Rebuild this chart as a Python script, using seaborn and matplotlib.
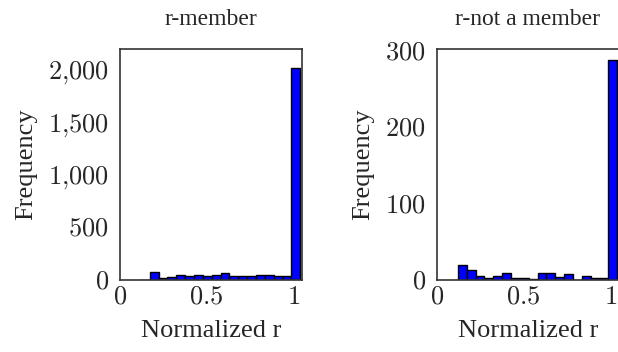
import numpy as np
import pandas as pd
import matplotlib
matplotlib.use("Agg")
import matplotlib.pyplot as plt
import seaborn as sns
from matplotlib.ticker import FuncFormatter

# histogram counts (18 bins each)
bin_edges = np.linspace(0.12, 1.04, 19)
member_counts = [3, 75, 15, 28, 45, 35, 45, 35, 52, 62, 42, 42, 40, 48, 48, 40, 35, 2010]
nonmember_counts = [19, 13, 5, 2, 5, 9, 3, 3, 1, 9, 9, 4, 8, 0, 5, 3, 2, 288]
titles = ["r-member", "r-not a member"]
member_yticks = [0, 500, 1000, 1500, 2000]
nonmember_yticks = [0, 100, 200, 300]
xticks = [0, 0.5, 1]

sns.set_style("white")
plt.rcParams["font.family"] = ["Liberation Serif", "DejaVu Serif"]
plt.rcParams["mathtext.fontset"] = "cm"

centers = (bin_edges[:-1] + bin_edges[1:]) / 2

fig = plt.figure(figsize=(6.18, 3.52), dpi=100)
ax1 = fig.add_axes([0.1942, 0.2045, 0.2945, 0.6563])
ax2 = fig.add_axes([0.7071, 0.2045, 0.2945, 0.6563])


def num_fmt(v, pos):
    if abs(v - round(v)) < 1e-9:
        s = f"{int(round(v)):,}".replace(",", "{,}")
    else:
        s = f"{v:g}"
    return "$" + s + "$"


panels = [
    (ax1, member_counts, titles[0], member_yticks, (0, 2190)),
    (ax2, nonmember_counts, titles[1], nonmember_yticks, (0, 302)),
]
for ax, counts, title, yt, ylim in panels:
    df = pd.DataFrame({"r": centers, "n": counts})
    sns.histplot(data=df, x="r", weights="n", bins=list(bin_edges), ax=ax,
                 color="#0000ff", alpha=1, edgecolor="black", linewidth=1)
    ax.set_xlim(0, 1.05)
    ax.set_ylim(*ylim)
    ax.set_xticks(xticks)
    ax.set_yticks(yt)
    ax.xaxis.set_major_formatter(FuncFormatter(num_fmt))
    ax.yaxis.set_major_formatter(FuncFormatter(num_fmt))
    ax.tick_params(direction="in", length=4, color="#999999", labelsize=19, pad=8)
    ax.tick_params(axis="x", pad=5)
    ax.set_title(title, fontsize=17, pad=17)
    ax.set_xlabel("Normalized r", fontsize=19, labelpad=8)
    ax.set_ylabel("Frequency", fontsize=19, labelpad=8)
    for sp in ax.spines.values():
        sp.set_color("#333333")
        sp.set_linewidth(1.2)

fig.savefig("out.png", dpi=100)
